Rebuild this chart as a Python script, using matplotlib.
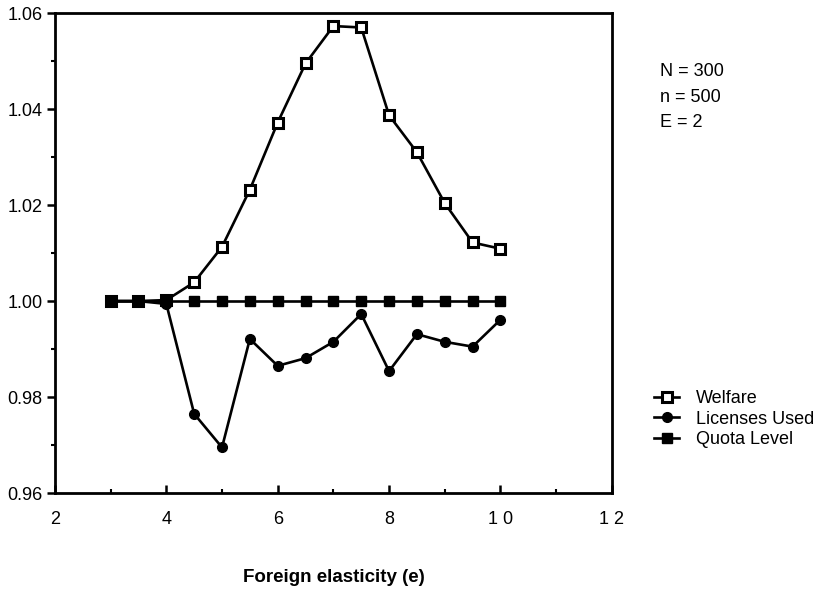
import matplotlib
matplotlib.use("Agg")
import matplotlib.pyplot as plt
from matplotlib.ticker import MultipleLocator, FixedLocator

plt.rcParams['font.family'] = ['Liberation Sans', 'DejaVu Sans']

elasticity = [3.0, 3.5, 4.0, 4.5, 5.0, 5.5, 6.0, 6.5, 7.0, 7.5, 8.0, 8.5, 9.0, 9.5, 10.0]
welfare = [1.0000, 1.0000, 1.0002, 1.0039, 1.0113, 1.0232, 1.0372, 1.0495, 1.0573, 1.0570, 1.0387, 1.0310, 1.0204, 1.0122, 1.0109]
licenses_used = [1.0000, 1.0000, 0.9994, 0.9765, 0.9695, 0.9921, 0.9865, 0.9881, 0.9915, 0.9973, 0.9854, 0.9931, 0.9915, 0.9905, 0.9961]
quota_level = [1.0] * 15

x_ticks = [2, 4, 6, 8, 10, 12]
x_tick_labels = ["2", "4", "6", "8", "1 0", "1 2"]
y_ticks = [0.96, 0.98, 1.00, 1.02, 1.04, 1.06]
y_tick_labels = ["0.96", "0.98", "1.00", "1.02", "1.04", "1.06"]
params_text = ["N = 300", "n = 500", "E = 2"]

fig = plt.figure(figsize=(8.29, 5.95), dpi=100)
ax = fig.add_axes([0.0663, 0.1714, 0.6717, 0.8066])

lw = 1.9
l_w, = ax.plot(elasticity, welfare, color='black', lw=lw, marker='s', ms=7,
               mfc='white', mec='black', mew=2.2, label='Welfare', zorder=3)
l_l, = ax.plot(elasticity, licenses_used, color='black', lw=lw, marker='o', ms=7,
               mfc='black', mec='black', label='Licenses Used', zorder=3.5)
l_q, = ax.plot(elasticity, quota_level, color='black', lw=lw, marker='s', ms=7,
               mfc='black', mec='black', label='Quota Level', zorder=4)

ax.set_xlim(2, 12)
ax.set_ylim(0.96, 1.06)
ax.xaxis.set_major_locator(FixedLocator(x_ticks))
ax.set_xticklabels(x_tick_labels)
ax.xaxis.set_minor_locator(MultipleLocator(1))
ax.yaxis.set_major_locator(FixedLocator(y_ticks))
ax.set_yticklabels(y_tick_labels)
ax.yaxis.set_minor_locator(MultipleLocator(0.01))

for s in ax.spines.values():
    s.set_linewidth(2)
ax.tick_params(axis='x', which='major', direction='in', length=6, width=1.8,
               labelsize=13, pad=13, top=False)
ax.tick_params(axis='x', which='minor', direction='in', length=3, width=1.5, top=False)
ax.tick_params(axis='y', which='major', direction='out', length=6, width=1.8,
               labelsize=13, pad=3, right=False)
ax.tick_params(axis='y', which='minor', direction='out', length=3, width=1.5, right=False)

ax_center = (0.0663 + 0.6717 / 2)
fig.text(ax_center, 1 - 577 / 595, "Foreign elasticity (e)", ha='center', va='center',
         fontsize=13.5, fontweight='bold')

for i, t in enumerate(params_text):
    fig.text(660 / 829, 1 - (71 + 26 * i) / 595, t, ha='left', va='center', fontsize=13)

fig.legend([l_w, l_l, l_q], ['Welfare', 'Licenses Used', 'Quota Level'],
           loc='center left', bbox_to_anchor=(654 / 829, 1 - 419 / 595),
           frameon=False, fontsize=13, handlelength=1.4, handletextpad=0.9,
           labelspacing=0.2, borderaxespad=0, borderpad=0)

fig.savefig("out.png", dpi=100)
